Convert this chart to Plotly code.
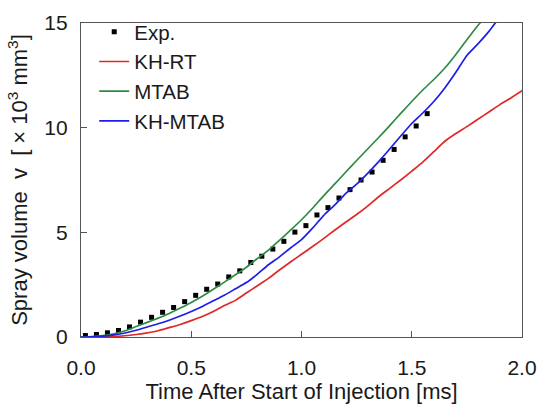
import plotly.graph_objects as go

# Experimental data
exp_t = [0.02, 0.07, 0.12, 0.17, 0.22, 0.27, 0.32, 0.37, 0.42, 0.47, 0.52, 0.57,
         0.62, 0.67, 0.72, 0.77, 0.82, 0.87, 0.92, 0.97, 1.02, 1.07, 1.12, 1.17,
         1.22, 1.27, 1.32, 1.37, 1.42, 1.47, 1.52, 1.57]
exp_v = [0.07, 0.12, 0.20, 0.31, 0.48, 0.71, 0.94, 1.18, 1.41, 1.69, 1.99, 2.28,
         2.53, 2.87, 3.16, 3.56, 3.86, 4.20, 4.57, 5.01, 5.32, 5.83, 6.18, 6.64,
         7.04, 7.50, 7.88, 8.44, 8.96, 9.56, 10.08, 10.67]

# KH-RT
krt_t = [0.00, 0.05, 0.10, 0.15, 0.20, 0.25, 0.30, 0.35, 0.40, 0.45, 0.50, 0.55,
         0.60, 0.65, 0.70, 0.75, 0.80, 0.85, 0.90, 0.95, 1.00, 1.05, 1.10, 1.15,
         1.20, 1.25, 1.30, 1.35, 1.40, 1.45, 1.50, 1.55, 1.60, 1.65, 1.70, 1.75,
         1.80, 1.85, 1.90, 1.95, 2.00]
krt_v = [0.00, 0.00, 0.01, 0.03, 0.06, 0.12, 0.20, 0.30, 0.45, 0.60, 0.78, 0.98,
         1.22, 1.50, 1.75, 2.10, 2.45, 2.80, 3.20, 3.58, 3.95, 4.32, 4.70, 5.10,
         5.48, 5.85, 6.25, 6.70, 7.10, 7.50, 7.92, 8.35, 8.85, 9.35, 9.72, 10.05,
         10.40, 10.75, 11.10, 11.42, 11.76]

# MTAB
mtab_t = [0.00, 0.05, 0.10, 0.15, 0.20, 0.25, 0.30, 0.35, 0.40, 0.45, 0.50, 0.55,
          0.60, 0.65, 0.70, 0.75, 0.80, 0.85, 0.90, 0.95, 1.00, 1.05, 1.10, 1.15,
          1.20, 1.25, 1.30, 1.35, 1.40, 1.45, 1.50, 1.55, 1.60, 1.65, 1.70, 1.75,
          1.80, 1.85]
mtab_v = [0.00, 0.02, 0.07, 0.15, 0.30, 0.50, 0.70, 0.90, 1.12, 1.38, 1.65, 1.95,
          2.28, 2.62, 2.97, 3.33, 3.75, 4.15, 4.62, 5.10, 5.60, 6.15, 6.74, 7.30,
          7.87, 8.43, 8.98, 9.53, 10.10, 10.68, 11.25, 11.80, 12.30, 12.85, 13.50,
          14.20, 14.88, 15.50]

# KH-MTAB
kmt_t = [0.00, 0.05, 0.10, 0.15, 0.20, 0.25, 0.30, 0.35, 0.40, 0.45, 0.50, 0.55,
         0.60, 0.65, 0.70, 0.75, 0.80, 0.85, 0.90, 0.95, 1.00, 1.05, 1.10, 1.15,
         1.20, 1.25, 1.30, 1.35, 1.40, 1.45, 1.50, 1.55, 1.60, 1.65, 1.70, 1.75,
         1.80, 1.85, 1.90]
kmt_v = [0.00, 0.01, 0.04, 0.10, 0.19, 0.32, 0.48, 0.63, 0.80, 1.00, 1.22, 1.46,
         1.73, 2.00, 2.30, 2.60, 3.00, 3.45, 3.83, 4.25, 4.65, 5.20, 5.80, 6.30,
         6.85, 7.30, 7.82, 8.38, 8.98, 9.60, 10.20, 10.70, 11.25, 11.90, 12.65,
         13.45, 14.00, 14.60, 15.30]

x_ticks = [0.0, 0.5, 1.0, 1.5, 2.0]
x_ticklabels = ["0.0", "0.5", "1.0", "1.5", "2.0"]
y_ticks = [0, 5, 10, 15]
y_ticklabels = ["0", "5", "10", "15"]

FONT = "Liberation Sans, Arial, sans-serif"
TXT = "#1a1a1a"

fig = go.Figure()
fig.add_trace(go.Scatter(x=exp_t, y=exp_v, mode="markers", name="Exp.",
                         marker=dict(symbol="square", size=5, color="black")))
fig.add_trace(go.Scatter(x=krt_t, y=krt_v, mode="lines", name="KH-RT",
                         line=dict(color="#e02828", width=1.7, shape="spline", smoothing=0.5)))
fig.add_trace(go.Scatter(x=mtab_t, y=mtab_v, mode="lines", name="MTAB",
                         line=dict(color="#2e8b46", width=1.7, shape="spline", smoothing=0.5)))
fig.add_trace(go.Scatter(x=kmt_t, y=kmt_v, mode="lines", name="KH-MTAB",
                         line=dict(color="#1e1ee6", width=1.7, shape="spline", smoothing=0.5)))

axis_common = dict(showgrid=False, zeroline=False, showline=True, linecolor="#555555",
                   linewidth=1.3, mirror=True, ticks="inside", ticklen=6,
                   tickcolor="#555555", tickwidth=1.3, automargin=False,
                   tickfont=dict(family=FONT, size=21, color=TXT))

fig.update_layout(
    width=540, height=410,
    margin=dict(l=81, r=18, t=12, b=73),
    paper_bgcolor="white", plot_bgcolor="white",
    font=dict(family=FONT, color=TXT),
    xaxis=dict(range=[0, 2], tickvals=x_ticks, ticktext=x_ticklabels,
               title=dict(text="Time After Start of Injection [ms]",
                          font=dict(family=FONT, size=22, color=TXT), standoff=5),
               ticklabelstandoff=12, **axis_common),
    yaxis=dict(range=[0, 15], tickvals=y_ticks, ticktext=y_ticklabels,
               title=dict(text="Spray volume  v  [ × 10<sup>3</sup> mm<sup>3</sup>]",
                          font=dict(family=FONT, size=22, color=TXT), standoff=10),
               ticklabelstandoff=8, **axis_common),
    legend=dict(x=0.03, y=1.035, xanchor="left", yanchor="top",
                bgcolor="rgba(0,0,0,0)", borderwidth=0,
                font=dict(family=FONT, size=20.5, color=TXT),
                itemwidth=30),
)

fig.write_html("out.html")
